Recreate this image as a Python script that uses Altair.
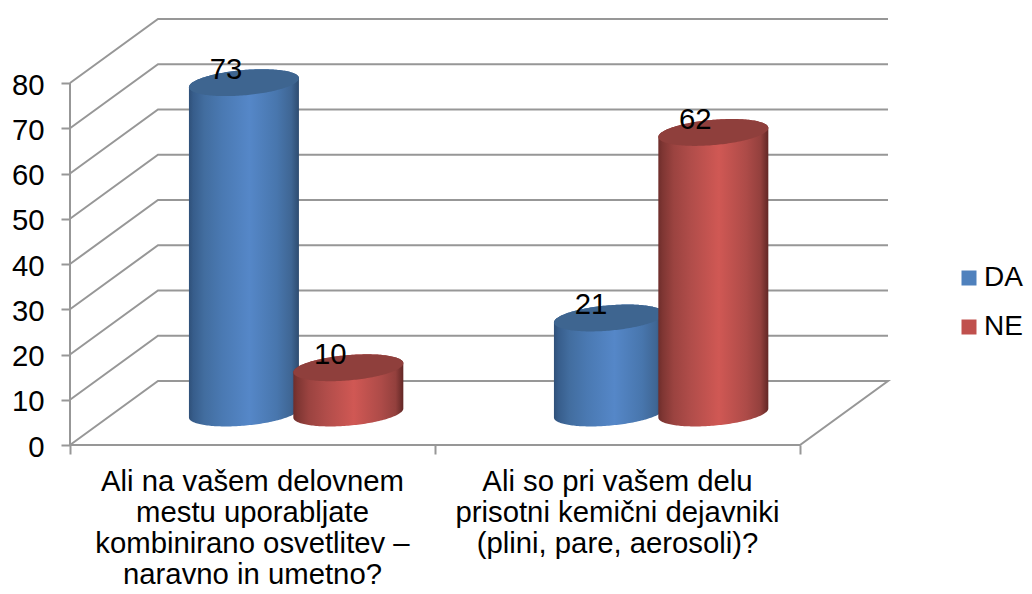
import math
import altair as alt
import pandas as pd

# ---- chart values
categories = [
    "Ali na vašem delovnem\nmestu uporabljate\nkombinirano osvetlitev –\nnaravno in umetno?",
    "Ali so pri vašem delu\nprisotni kemični dejavniki\n(plini, pare, aerosoli)?",
]
series = ["DA", "NE"]
da_values = [73, 21]
ne_values = [10, 62]
y_ticks = [0, 10, 20, 30, 40, 50, 60, 70, 80]
cat_ticks = [0, 1, 2]
series_colors = ["#4F81BD", "#C0504D"]

# ---- oblique projection in data units (category units, value units)
PX_PER_CAT = 365.0
PX_PER_VAL = 4.525
DEPTH_X = 88 / PX_PER_CAT
DEPTH_V = 64 / PX_PER_VAL
W, H = 1016, 578
X_DOMAIN = [(8 - 70) / PX_PER_CAT, (8 + W - 70) / PX_PER_CAT]
Y_DOMAIN = [(445 - (8 + H)) / PX_PER_VAL, (445 - 8) / PX_PER_VAL]
BAR_OFFSET = {"DA": 0.356, "NE": 0.642}
RADIUS_X = 51.8 / PX_PER_CAT
RADIUS_D = 0.21
GRID = "#979797"
FONT = "Liberation Sans"
FS = 29.3


def project(c, d, v):
    return c + d * DEPTH_X, v + d * DEPTH_V


def ellipse_rows(cat, name, value, n=90):
    cx = cat + BAR_OFFSET[name]
    b = RADIUS_D * DEPTH_X
    e = RADIUS_D * DEPTH_V
    big_r = math.hypot(RADIUS_X, b)
    t0 = math.atan2(b, RADIUS_X)
    rows = []
    for i in range(n + 1):
        u = math.pi * i / n
        x, mid = project(cx, 0.5, 0)
        x += big_r * math.cos(u)
        up = e * math.sin(t0 + u)
        lo = e * math.sin(t0 - u)
        rows.append({
            "x": x,
            "body_top": value + mid + up,
            "body_bot": mid + lo,
            "cap_top": value + mid + up,
            "cap_bot": value + mid + lo,
        })
    return pd.DataFrame(rows).sort_values("x")


x_scale = alt.Scale(domain=X_DOMAIN, nice=False, zero=False)
y_scale = alt.Scale(domain=Y_DOMAIN, nice=False, zero=False)
x_axis = alt.Axis(values=cat_ticks, labels=False, domain=False, grid=False, tickSize=9,
                  tickColor=GRID, tickWidth=2, offset=-(8 + H - 445), title=None)
y_axis = alt.Axis(values=y_ticks, format="d", domain=False, grid=False, tickSize=9,
                  tickColor=GRID, tickWidth=2, offset=-62, labelFont=FONT, labelFontSize=FS,
                  labelColor="#000000", labelPadding=17, labelOffset=2, title=None)


def X(f):
    return alt.X(f, scale=x_scale, axis=x_axis)


def Y(f):
    return alt.Y(f, scale=y_scale, axis=y_axis, stack=None)


# ---- walls and floor
grid_rows = []
for v in y_ticks:
    pts = [(0, 0), (0, 1), (2, 1)] if v else [(0, 0), (0, 1), (2, 1), (2, 0), (0, 0)]
    for k, (c, d) in enumerate(pts):
        px, pv = project(c, d, v)
        grid_rows.append({"g": v, "k": k, "x": px, "y": pv})
grid = alt.Chart(pd.DataFrame(grid_rows)).mark_line(color=GRID, strokeWidth=2).encode(
    x=X("x:Q"), y=Y("y:Q"), detail="g:N", order="k:Q",
)
y_line = alt.Chart(pd.DataFrame({"x": [0], "y": [min(y_ticks)], "y2": [max(y_ticks)]})).mark_rule(
    color=GRID, strokeWidth=2
).encode(x=X("x:Q"), y=Y("y:Q"), y2="y2:Q")

# ---- cylinders
gradients = {
    "DA": [(0, "#2f5079"), (0.04, "#375d8b"), (0.14, "#426d9f"), (0.3, "#4a79b2"), (0.55, "#5587c8"),
           (0.8, "#4876ad"), (0.93, "#3f6694"), (1, "#2e4c70")],
    "NE": [(0, "#6e2d2b"), (0.04, "#7f3633"), (0.14, "#9b4340"), (0.3, "#b14d4a"), (0.55, "#d05854"),
           (0.8, "#ad4b48"), (0.93, "#93403d"), (1, "#622725")],
}
cap_colors = {"DA": "#3e6590", "NE": "#8f3f3c"}
layers = [grid, y_line]
label_rows = []
for name, vals in zip(series, [da_values, ne_values]):
    for cat, value in enumerate(vals):
        df = ellipse_rows(cat, name, value)
        base = alt.Chart(df)
        grad = alt.Gradient(gradient="linear", x1=0, x2=1, y1=0, y2=0,
                            stops=[alt.GradientStop(offset=o, color=c) for o, c in gradients[name]])
        layers.append(base.mark_area(color=grad, interpolate="linear").encode(
            x=X("x:Q"), y=Y("body_top:Q"), y2="body_bot:Q",
        ))
        layers.append(base.mark_area(color=cap_colors[name], interpolate="linear").encode(
            x=X("x:Q"), y=Y("cap_top:Q"), y2="cap_bot:Q",
        ))
        px, pv = project(cat + BAR_OFFSET[name], 0.5, value)
        label_rows.append({"x": px - 18 / PX_PER_CAT, "y": pv + 12.5 / PX_PER_VAL, "t": str(value)})

labels = alt.Chart(pd.DataFrame(label_rows)).mark_text(
    font=FONT, fontSize=FS, color="#000000", align="center", baseline="middle"
).encode(x=X("x:Q"), y=Y("y:Q"), text="t:N")
layers.append(labels)

cat_labels = alt.Chart(pd.DataFrame({
    "x": [i + 0.5 for i in range(len(categories))],
    "y": [0, 0],
    "t": categories,
})).mark_text(
    font=FONT, fontSize=FS, color="#000000", align="center", baseline="top",
    lineBreak="\n", lineHeight=31, dy=23,
).encode(x=X("x:Q"), y=Y("y:Q"), text="t:N")
layers.append(cat_labels)

legend_src = alt.Chart(pd.DataFrame({"s": series, "x": [0, 0], "y": [0, 0]})).mark_point(
    filled=True, shape="square", size=0, opacity=1
).encode(
    x=X("x:Q"), y=Y("y:Q"),
    color=alt.Color("s:N", scale=alt.Scale(domain=series, range=series_colors), legend=alt.Legend(
        title=None, orient="none", legendX=947, legendY=256, symbolType="square", symbolSize=225,
        symbolStrokeWidth=0, symbolOpacity=1, labelFont=FONT, labelFontSize=28, labelColor="#000000",
        labelOffset=1, rowPadding=21, padding=0)),
)
layers.append(legend_src)

chart = alt.layer(*layers).resolve_scale(x="shared", y="shared").properties(
    width=W, height=H, padding=0,
    autosize=alt.AutoSizeParams(type="none"),
    background="#ffffff",
).configure_view(stroke=None)

chart.save("out.html", embed_options={"renderer": "svg", "actions": False})
